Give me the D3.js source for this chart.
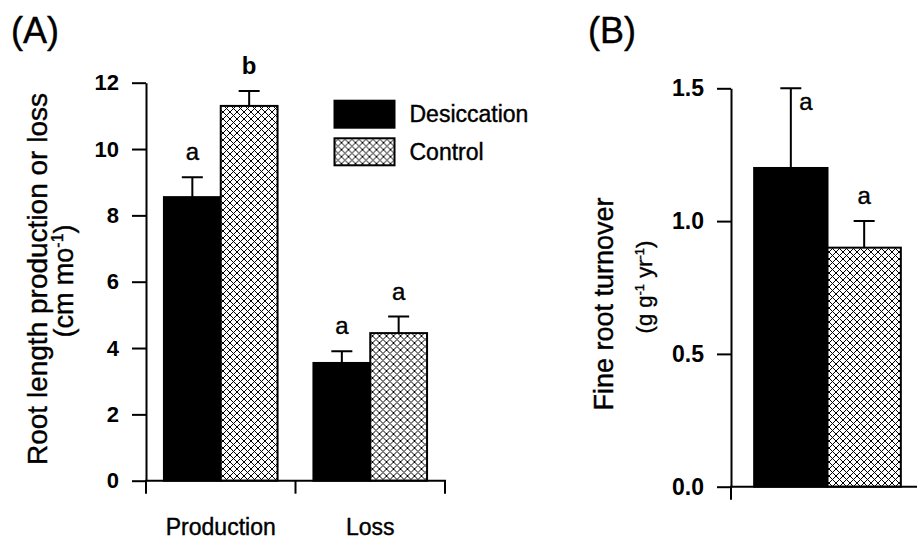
<!DOCTYPE html>
<html>
<head>
<meta charset="utf-8">
<script src="https://cdn.jsdelivr.net/npm/d3@7"></script>
<style>
  html, body { margin: 0; padding: 0; background: #fff; }
  svg { display: block; font-family: "Liberation Sans", Arial, Helvetica, sans-serif; }
  /* slightly heavier strokes on regular-weight text */
  text.heavy { stroke: #000; stroke-width: 0.4px; }
</style>
</head>
<body>
<svg id="fig" width="917" height="539"></svg>
<script>
// ---- Panel A: root length production / loss ----
const categoriesA = ["Production", "Loss"];
const seriesNames = ["Desiccation", "Control"];
const desiccationA = [8.55, 3.55];
const desiccationErrA = [0.6, 0.35];
const controlA = [11.3, 4.45];
const controlErrA = [0.45, 0.5];
const lettersDesiccationA = ["a", "a"];
const lettersControlA = ["b", "a"];
const yTicksA = [0, 2, 4, 6, 8, 10, 12];

// ---- Panel B: fine root turnover ----
const categoriesB = ["Turnover"];
const desiccationB = [1.2];
const desiccationErrB = [0.3];
const controlB = [0.9];
const controlErrB = [0.1];
const lettersDesiccationB = ["a"];
const lettersControlB = ["a"];
const yTicksB = [0, 0.5, 1.0, 1.5];

const svg = d3.select("#fig");

// cross-hatch fill for the Control series
const defs = svg.append("defs");
const pat = defs.append("pattern")
  .attr("id", "xhatch")
  .attr("patternUnits", "userSpaceOnUse")
  .attr("width", 7).attr("height", 7);
pat.append("rect").attr("width", 7).attr("height", 7).attr("fill", "#fff");
pat.append("path")
  .attr("d", "M0,0L7,7M7,0L0,7M-1,1L1,-1M6,8L8,6M-1,6L1,8M6,-1L8,1")
  .attr("stroke", "#000").attr("stroke-width", 1).attr("fill", "none");

const fills = { Desiccation: "#000", Control: "url(#xhatch)" };

function rows(cats, dv, de, dl, cv, ce, cl) {
  return cats.map((c, i) => ({
    cat: c,
    bars: [
      { s: "Desiccation", v: dv[i], e: de[i], l: dl[i], bold: dl[i] !== "a" },
      { s: "Control", v: cv[i], e: ce[i], l: cl[i], bold: cl[i] !== "a" }
    ]
  }));
}

function panel(opts) {
  const g = svg.append("g");
  const { x0, y, data, ticks, fmt, tickFont, xAxisEnd, boundaryTicks, showCatLabels } = opts;
  const x1 = d3.scaleBand().domain(seriesNames)
    .range([x0.bandwidth() * 0.12, x0.bandwidth() * 0.88]).padding(0);

  // bars
  const grp = g.selectAll("g.grp").data(data).join("g")
    .attr("transform", d => `translate(${x0(d.cat)},0)`);
  grp.selectAll("rect").data(d => d.bars).join("rect")
    .attr("x", d => x1(d.s))
    .attr("y", d => y(d.v))
    .attr("width", x1.bandwidth())
    .attr("height", d => y(0) - y(d.v))
    .attr("fill", d => fills[d.s])
    .attr("stroke", "#000")
    .attr("stroke-width", 2);

  // error bars (upper only)
  const capW = 21;
  grp.selectAll("path.err").data(d => d.bars).join("path")
    .attr("class", "err")
    .attr("d", d => {
      const cx = x1(d.s) + x1.bandwidth() / 2;
      const top = y(d.v + d.e);
      return `M${cx},${y(d.v)}V${top}M${cx - capW / 2},${top}H${cx + capW / 2}`;
    })
    .attr("stroke", "#000").attr("stroke-width", 2).attr("fill", "none");

  // significance letters
  const yMax = y.domain()[1];
  grp.selectAll("text.sig").data(d => d.bars).join("text")
    .attr("class", d => d.bold ? "sig" : "sig heavy")
    .attr("x", d => {
      const cx = x1(d.s) + x1.bandwidth() / 2;
      return d.v + d.e >= yMax ? cx + 15 : cx;
    })
    .attr("y", d => d.v + d.e >= yMax ? y(d.v + d.e) + 22 : y(d.v + d.e) - 17)
    .attr("text-anchor", "middle")
    .attr("font-size", 24)
    .attr("font-weight", d => d.bold ? "bold" : "normal")
    .text(d => d.l);

  // y axis
  const yAxis = g.append("g")
    .attr("transform", `translate(${x0.range()[0]},0)`)
    .call(d3.axisLeft(y).tickValues(ticks).tickFormat(fmt)
      .tickSize(14).tickSizeOuter(0).tickPadding(13));
  yAxis.selectAll("text").attr("font-size", tickFont).attr("font-weight", "bold")
    .attr("fill", "#000").attr("font-family", null);
  yAxis.selectAll("line").attr("stroke-width", 2);
  yAxis.select(".domain").attr("stroke-width", 2);

  // x axis line
  const x0start = x0.range()[0];
  g.append("line")
    .attr("x1", x0start - 1).attr("x2", xAxisEnd)
    .attr("y1", y(0)).attr("y2", y(0))
    .attr("stroke", "#000").attr("stroke-width", 2);

  // x ticks at group boundaries
  g.selectAll("line.bt").data(boundaryTicks).join("line")
    .attr("class", "bt")
    .attr("x1", d => d).attr("x2", d => d)
    .attr("y1", y(0)).attr("y2", y(0) + 13)
    .attr("stroke", "#000").attr("stroke-width", 2);

  if (showCatLabels) {
    const xAxis = g.append("g")
      .attr("transform", `translate(0,${y(0)})`)
      .call(d3.axisBottom(x0).tickSize(0).tickPadding(38));
    xAxis.select(".domain").remove();
    xAxis.selectAll("text").attr("font-size", 23).attr("fill", "#000")
      .attr("font-family", null).attr("class", "heavy");
  }
  return g;
}

// ---- Panel A ----
const x0A = d3.scaleBand().domain(categoriesA).range([146, 445]).padding(0);
const yA = d3.scaleLinear().domain([0, 12]).range([480.7, 82.7]);
panel({
  x0: x0A, y: yA,
  data: rows(categoriesA, desiccationA, desiccationErrA, lettersDesiccationA,
             controlA, controlErrA, lettersControlA),
  ticks: yTicksA, fmt: d3.format("d"), tickFont: 22,
  xAxisEnd: 446,
  boundaryTicks: d3.range(categoriesA.length + 1).map(i => x0A.range()[0] + i * x0A.step()),
  showCatLabels: true
});

// ---- Panel B ----
const x0B = d3.scaleBand().domain(categoriesB).range([731, 924]).padding(0);
const yB = d3.scaleLinear().domain([0, 1.5]).range([486.7, 88.3]);
panel({
  x0: x0B, y: yB,
  data: rows(categoriesB, desiccationB, desiccationErrB, lettersDesiccationB,
             controlB, controlErrB, lettersControlB),
  ticks: yTicksB, fmt: d3.format(".1f"), tickFont: 23,
  xAxisEnd: 917,
  boundaryTicks: [x0B.range()[0]],
  showCatLabels: false
});

// ---- axis titles ----
svg.append("text").attr("class", "heavy")
  .attr("transform", "translate(46.5,279) rotate(-90)")
  .attr("text-anchor", "middle").attr("font-size", 28)
  .text("Root length production or loss");
const subA = svg.append("text").attr("class", "heavy")
  .attr("transform", "translate(73,281) rotate(-90)")
  .attr("text-anchor", "middle").attr("font-size", 27);
subA.append("tspan").text("(cm mo");
subA.append("tspan").attr("dy", -10).attr("font-size", 16).text("-1");
subA.append("tspan").attr("dy", 10).text(")");

svg.append("text").attr("class", "heavy")
  .attr("transform", "translate(613,304) rotate(-90)")
  .attr("text-anchor", "middle").attr("font-size", 27)
  .text("Fine root turnover");
const subB = svg.append("text").attr("class", "heavy")
  .attr("transform", "translate(652,287) rotate(-90)")
  .attr("text-anchor", "middle").attr("font-size", 22);
subB.append("tspan").text("(g g");
subB.append("tspan").attr("dy", -8).attr("font-size", 13).text("-1");
subB.append("tspan").attr("dy", 8).text(" yr");
subB.append("tspan").attr("dy", -8).attr("font-size", 13).text("-1");
subB.append("tspan").attr("dy", 8).text(")");

// ---- panel tags ----
svg.append("text").attr("class", "heavy").attr("x", 11).attr("y", 43).attr("font-size", 36).text("(A)");
svg.append("text").attr("class", "heavy").attr("x", 588).attr("y", 43).attr("font-size", 36).text("(B)");

// ---- legend ----
const legend = svg.append("g").attr("transform", "translate(334.5,100.7)");
legend.selectAll("rect").data(seriesNames).join("rect")
  .attr("x", 0).attr("y", (d, i) => i * 37.6)
  .attr("width", 60).attr("height", 27)
  .attr("fill", d => fills[d]).attr("stroke", "#000").attr("stroke-width", 2);
legend.selectAll("text").data(seriesNames).join("text")
  .attr("class", "heavy")
  .attr("x", 75).attr("y", (d, i) => i * 37.6 + 13.5)
  .attr("dy", "0.35em").attr("font-size", 23)
  .text(d => d);
</script>
</body>
</html>
